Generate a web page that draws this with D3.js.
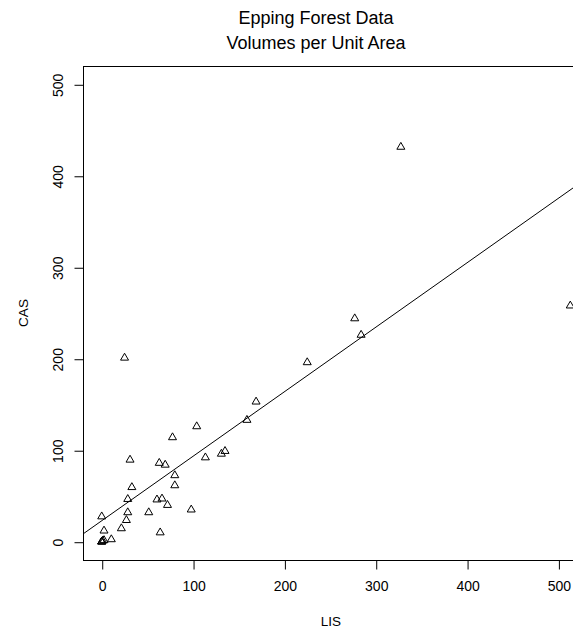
<!DOCTYPE html>
<html>
<head>
<meta charset="utf-8">
<script src="https://cdn.jsdelivr.net/npm/d3@7"></script>
<style>
  body { margin: 0; background: #fff; }
  svg { display: block; font-family: "Liberation Sans", Arial, sans-serif; }
</style>
</head>
<body>
<svg id="chart" width="573" height="631"></svg>
<script>
// values
const lis = [169, 159, 104, 77.5, 31, 63, 69.5, 113.5, 131, 135,
  80, 80, 33, 28.5, 60.5, 66, 72, 98, 0, 28.5,
  51.5, 27, 21.5, 2.5, 64, 10.5, 0, 0, 0, 1,
  2.5, 25, 225, 277, 284, 327.5, 513];
const cas = [153, 133, 126, 114, 89.5, 86, 84, 92, 96, 99,
  72.5, 61.5, 59.5, 46.5, 46, 47, 40, 35, 27.5, 32,
  32, 23.5, 14.5, 12, 10, 2.5, 0, 0, 0, 1,
  1.5, 201, 196, 244, 226, 431.5, 258];
const xTicks = [0, 100, 200, 300, 400, 500];
const yTicks = [0, 100, 200, 300, 400, 500];
const titleLines = ["Epping Forest Data", "Volumes per Unit Area"];
const fit = { intercept: 22.9, slope: 0.705 }; // fitted line as drawn

const box = { left: 83, top: 66, right: 589, bottom: 560 };
const x = d3.scaleLinear().domain([-20.5, 533.5]).range([box.left, box.right]);
const y = d3.scaleLinear().domain([-20, 520]).range([box.bottom, box.top]);

const svg = d3.select("#chart");

svg.append("defs").append("clipPath").attr("id", "plotclip")
  .append("rect")
  .attr("x", box.left).attr("y", box.top)
  .attr("width", box.right - box.left).attr("height", box.bottom - box.top);

// plot frame
svg.append("rect")
  .attr("x", box.left + 0.5).attr("y", box.top + 0.5)
  .attr("width", box.right - box.left).attr("height", box.bottom - box.top)
  .attr("fill", "none").attr("stroke", "#000");

// x axis
const gx = svg.append("g")
  .attr("transform", `translate(0.5,${box.bottom + 0.5})`)
  .call(d3.axisBottom(x).tickValues(xTicks).tickSize(9).tickSizeOuter(0).tickPadding(12));
gx.select(".domain").remove();
gx.selectAll("text").attr("font-size", 14).attr("font-family", null).attr("fill", "#000");

// y axis, labels turned like R's las = 0
const gy = svg.append("g")
  .attr("transform", `translate(${box.left + 0.5},0.5)`)
  .call(d3.axisLeft(y).tickValues(yTicks).tickSize(9).tickSizeOuter(0));
gy.select(".domain").remove();
gy.selectAll("text")
  .attr("font-size", 14).attr("font-family", null).attr("fill", "#000")
  .attr("x", null).attr("dy", null)
  .attr("text-anchor", "middle")
  .attr("transform", "translate(-21,0) rotate(-90)");

// fitted line
const plot = svg.append("g").attr("clip-path", "url(#plotclip)");
plot.append("line")
  .attr("x1", x(x.domain()[0])).attr("y1", y(fit.intercept + fit.slope * x.domain()[0]))
  .attr("x2", x(x.domain()[1])).attr("y2", y(fit.intercept + fit.slope * x.domain()[1]))
  .attr("stroke", "#000").attr("stroke-width", 1);

// open triangles (pch = 2)
const tri = "M0,-4.6L4,2.3L-4,2.3Z";
plot.selectAll("path.pt")
  .data(d3.range(lis.length))
  .join("path")
  .attr("class", "pt")
  .attr("d", tri)
  .attr("transform", i => `translate(${x(lis[i])},${y(cas[i])})`)
  .attr("fill", "none").attr("stroke", "#000").attr("stroke-width", 1);

// titles
const titleX = 316;
svg.append("text")
  .attr("x", titleX).attr("y", 24)
  .attr("text-anchor", "middle").attr("font-size", 18)
  .text(titleLines[0]);
svg.append("text")
  .attr("x", titleX).attr("y", 49)
  .attr("text-anchor", "middle").attr("font-size", 18)
  .text(titleLines[1]);

svg.append("text")
  .attr("x", 331).attr("y", 626)
  .attr("text-anchor", "middle").attr("font-size", 13.5)
  .text("LIS");
svg.append("text")
  .attr("transform", `translate(28,${(box.top + box.bottom) / 2}) rotate(-90)`)
  .attr("text-anchor", "middle").attr("font-size", 13.5)
  .text("CAS");
</script>
</body>
</html>
